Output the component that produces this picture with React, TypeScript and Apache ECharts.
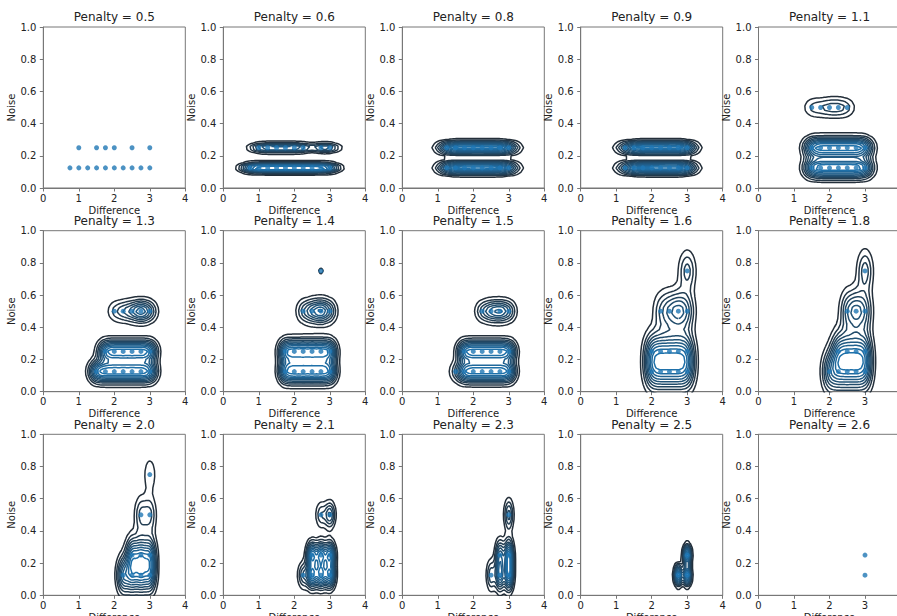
import React, { useEffect, useRef } from "react";
import * as echarts from "echarts";

// [difference, noise, number of runs that ended at this point]
type Run = [number, number, number];

function row(noise: number, differences: number[], runs: number | number[]): Run[] {
  return differences.map((d, i) => [d, noise, Array.isArray(runs) ? runs[i] : runs] as Run);
}

const penaltyLabels = ["0.5", "0.6", "0.8", "0.9", "1.1", "1.3", "1.4", "1.5", "1.6", "1.8", "2.0", "2.1", "2.3", "2.5", "2.6"];

const runsP05: Run[] = [
  ...row(0.125, [0.75, 1, 1.25, 1.5, 1.75, 2, 2.25, 2.5, 2.75, 3], 1),
  ...row(0.25, [1, 1.5, 1.75, 2, 2.5, 3], 1),
];
const runsP06: Run[] = [
  ...row(0.125, [0.75, 1, 1.25, 1.5, 1.75, 2, 2.25, 2.5, 2.75, 3], 70),
  ...row(0.25, [1, 1.25, 1.5, 1.75, 2, 2.25, 2.75, 3], 45),
];
const runsP08: Run[] = [
  ...row(0.125, [1.25, 1.5, 1.75, 2, 2.25, 2.5, 2.75, 3], 16),
  ...row(0.25, [1.25, 1.5, 1.75, 2, 2.25, 2.5, 2.75, 3], 16),
];
const runsP09: Run[] = [
  ...row(0.125, [1.25, 1.5, 1.75, 2, 2.25, 2.5, 2.75, 3], [10, 16, 16, 16, 16, 16, 16, 18]),
  ...row(0.25, [1.25, 1.5, 1.75, 2, 2.25, 2.5, 2.75, 3], [10, 16, 16, 16, 16, 16, 16, 18]),
];
const runsP11: Run[] = [
  ...row(0.125, [1.5, 1.75, 2, 2.25, 2.5, 2.75, 3], 25),
  ...row(0.25, [1.5, 1.75, 2, 2.25, 2.5, 2.75, 3], 25),
  ...row(0.5, [1.5, 1.75, 2, 2.25, 2.5], [7, 6, 9, 9, 7]),
];
const runsP13: Run[] = [
  ...row(0.125, [1.5, 1.75, 2, 2.25, 2.5, 2.75, 3], 40),
  ...row(0.25, [1.75, 2, 2.25, 2.5, 2.75, 3], 40),
  ...row(0.5, [2, 2.25, 2.5, 2.75, 3], [10, 15, 20, 35, 20]),
];
const runsP14: Run[] = [
  ...row(0.125, [1.75, 2, 2.25, 2.5, 2.75, 3], 40),
  ...row(0.25, [1.75, 2, 2.25, 2.5, 2.75, 3], 40),
  ...row(0.5, [2.25, 2.5, 2.75, 3], [15, 25, 35, 20]),
  ...row(0.75, [2.75], 6),
];
const runsP15: Run[] = [
  ...row(0.125, [1.5, 1.75, 2, 2.25, 2.5, 2.75, 3], [10, 40, 40, 40, 40, 40, 40]),
  ...row(0.25, [1.75, 2, 2.25, 2.5, 2.75, 3], 40),
  ...row(0.5, [2.25, 2.5, 2.75, 3], [15, 25, 30, 20]),
];
const runsP16: Run[] = [
  ...row(0.125, [2, 2.25, 2.5, 2.75, 3], 8),
  ...row(0.25, [2, 2.25, 2.5, 2.75, 3], 8),
  ...row(0.5, [2.25, 2.5, 2.75, 3], [4, 6, 8, 6]),
  ...row(0.75, [3], 6),
];
const runsP18: Run[] = [
  ...row(0.125, [2, 2.25, 2.5, 2.75, 3], 8),
  ...row(0.25, [2.25, 2.5, 2.75, 3], 8),
  ...row(0.5, [2.5, 2.75, 3], [6, 8, 6]),
  ...row(0.75, [3], 6),
];
const runsP20: Run[] = [
  ...row(0.125, [2.25, 2.5, 2.75, 3], 10),
  ...row(0.25, [2.5, 2.75, 3], 10),
  ...row(0.5, [2.75, 3], 5),
  ...row(0.75, [3], 3),
];
const runsP21: Run[] = [
  ...row(0.125, [2.25, 2.5, 2.75, 3], [8, 20, 20, 20]),
  ...row(0.25, [2.5, 2.75, 3], 20),
  ...row(0.5, [2.75, 3], [6, 11]),
];
const runsP23: Run[] = [
  ...row(0.125, [2.5, 2.75, 3], [5, 10, 12]),
  ...row(0.25, [2.75, 3], [8, 12]),
  ...row(0.5, [3], 6),
];
const runsP25: Run[] = [
  ...row(0.125, [2.75, 3], 6),
  ...row(0.25, [3], 6),
];
const runsP26: Run[] = [
  ...row(0.125, [3], 1),
  ...row(0.25, [3], 1),
];

const runsByPenalty: Run[][] = [
  runsP05, runsP06, runsP08, runsP09, runsP11,
  runsP13, runsP14, runsP15, runsP16, runsP18,
  runsP20, runsP21, runsP23, runsP25, runsP26,
];

// penalties whose panel shows only the scatter
const scatterOnly = ["0.5", "2.6"];

const differenceTicks = [0, 1, 2, 3, 4];
const noiseTicks = [0, 0.2, 0.4, 0.6, 0.8, 1.0];

// panel layout (pixels)
const colLeft = [43.3, 223.3, 402.3, 580.7, 758.5];
const rowTop = [27, 230.7, 434.3];
const plotW = 142;
const plotH = 161;

const FONT = "DejaVu Sans";
const TEXT = "#222222";
const SPINE = "#777777";
const POINT = "#1f77b4";
const DARK: [number, number, number] = [36, 40, 46];
const BLUE: [number, number, number] = [31, 119, 180];

const GRID_N = 100;
const N_LEVELS = 10;

// Gaussian KDE with a per-axis Scott bandwidth, evaluated on a regular grid
function densityGrid(runs: Run[]) {
  let n = 0, sx = 0, sy = 0;
  for (const [x, y, w] of runs) { n += w; sx += w * x; sy += w * y; }
  const mx = sx / n, my = sy / n;
  let cxx = 0, cyy = 0;
  for (const [x, y, w] of runs) {
    cxx += w * (x - mx) * (x - mx);
    cyy += w * (y - my) * (y - my);
  }
  cxx /= n - 1; cyy /= n - 1;
  const f = Math.pow(n, -1 / 6);
  const hx = Math.sqrt(cxx) * f, hy = Math.sqrt(cyy) * f;
  if (!(hx > 1e-9 && hy > 1e-9)) return null;
  const norm = 1 / (2 * Math.PI * hx * hy * n);
  const xsData = runs.map((r) => r[0]);
  const ysData = runs.map((r) => r[1]);
  const x0 = Math.min(...xsData) - 3 * f, x1 = Math.max(...xsData) + 3 * f;
  const y0 = Math.min(...ysData) - 3 * f, y1 = Math.max(...ysData) + 3 * f;
  const xs: number[] = [], ys: number[] = [];
  for (let i = 0; i < GRID_N; i++) {
    xs.push(x0 + ((x1 - x0) * i) / (GRID_N - 1));
    ys.push(y0 + ((y1 - y0) * i) / (GRID_N - 1));
  }
  const z: number[][] = [];
  let zmax = 0;
  for (let j = 0; j < GRID_N; j++) {
    const rowZ: number[] = [];
    for (let i = 0; i < GRID_N; i++) {
      let s = 0;
      for (const [x, y, w] of runs) {
        const dx = (xs[i] - x) / hx, dy = (ys[j] - y) / hy;
        s += w * Math.exp(-0.5 * (dx * dx + dy * dy));
      }
      const v = s * norm;
      rowZ.push(v);
      if (v > zmax) zmax = v;
    }
    z.push(rowZ);
  }
  return { xs, ys, z, zmax };
}

// marching squares, joined into polylines
function contourLines(xs: number[], ys: number[], z: number[][], lev: number): number[][][] {
  type Seg = { a: string; b: string; pa: number[]; pb: number[] };
  const segs: Seg[] = [];
  const adj = new Map<string, number[]>();
  const add = (p: [string, number[]], q: [string, number[]]) => {
    const idx = segs.length;
    segs.push({ a: p[0], b: q[0], pa: p[1], pb: q[1] });
    for (const k of [p[0], q[0]]) {
      const list = adj.get(k);
      if (list) list.push(idx); else adj.set(k, [idx]);
    }
  };
  const lerp = (xa: number, ya: number, va: number, xb: number, yb: number, vb: number) => {
    const t = (lev - va) / (vb - va);
    return [xa + t * (xb - xa), ya + t * (yb - ya)];
  };
  const nx = xs.length, ny = ys.length;
  for (let j = 0; j < ny - 1; j++) {
    for (let i = 0; i < nx - 1; i++) {
      const v00 = z[j][i], v10 = z[j][i + 1], v11 = z[j + 1][i + 1], v01 = z[j + 1][i];
      const c = (v00 > lev ? 1 : 0) | (v10 > lev ? 2 : 0) | (v11 > lev ? 4 : 0) | (v01 > lev ? 8 : 0);
      if (c === 0 || c === 15) continue;
      const B = (): [string, number[]] => ["h" + i + "," + j, lerp(xs[i], ys[j], v00, xs[i + 1], ys[j], v10)];
      const R = (): [string, number[]] => ["v" + (i + 1) + "," + j, lerp(xs[i + 1], ys[j], v10, xs[i + 1], ys[j + 1], v11)];
      const T = (): [string, number[]] => ["h" + i + "," + (j + 1), lerp(xs[i], ys[j + 1], v01, xs[i + 1], ys[j + 1], v11)];
      const L = (): [string, number[]] => ["v" + i + "," + j, lerp(xs[i], ys[j], v00, xs[i], ys[j + 1], v01)];
      const centerHigh = (v00 + v10 + v11 + v01) / 4 > lev;
      switch (c) {
        case 1: case 14: add(L(), B()); break;
        case 2: case 13: add(B(), R()); break;
        case 3: case 12: add(L(), R()); break;
        case 4: case 11: add(R(), T()); break;
        case 6: case 9: add(B(), T()); break;
        case 7: case 8: add(L(), T()); break;
        case 5:
          if (centerHigh) { add(B(), R()); add(T(), L()); } else { add(L(), B()); add(R(), T()); }
          break;
        case 10:
          if (centerHigh) { add(L(), B()); add(R(), T()); } else { add(B(), R()); add(T(), L()); }
          break;
      }
    }
  }
  const used = new Array(segs.length).fill(false);
  const lines: number[][][] = [];
  const nextFrom = (key: string) => {
    const list = adj.get(key) || [];
    for (const s of list) if (!used[s]) return s;
    return -1;
  };
  for (let s0 = 0; s0 < segs.length; s0++) {
    if (used[s0]) continue;
    used[s0] = true;
    const line = [segs[s0].pa, segs[s0].pb];
    let key = segs[s0].b;
    for (;;) {
      const t = nextFrom(key);
      if (t < 0) break;
      used[t] = true;
      const sg = segs[t];
      if (sg.a === key) { line.push(sg.pb); key = sg.b; } else { line.push(sg.pa); key = sg.a; }
    }
    key = segs[s0].a;
    for (;;) {
      const t = nextFrom(key);
      if (t < 0) break;
      used[t] = true;
      const sg = segs[t];
      if (sg.a === key) { line.unshift(sg.pb); key = sg.b; } else { line.unshift(sg.pa); key = sg.a; }
    }
    lines.push(line);
  }
  return lines;
}

function levelColor(frac: number) {
  const c = DARK.map((d, k) => Math.round(d + (BLUE[k] - d) * frac));
  return `rgb(${c[0]},${c[1]},${c[2]})`;
}

function buildOption() {
  const grid: any[] = [];
  const xAxis: any[] = [];
  const yAxis: any[] = [];
  const series: any[] = [];
  const graphic: any[] = [];

  penaltyLabels.forEach((label, p) => {
    const left = colLeft[p % 5];
    const top = rowTop[Math.floor(p / 5)];
    grid.push({
      left, top, width: plotW, height: plotH,
      show: true, borderColor: SPINE, borderWidth: 1, backgroundColor: "transparent",
      containLabel: false, outerBoundsMode: "none",
    });
    xAxis.push({
      type: "value", gridIndex: p,
      min: differenceTicks[0], max: differenceTicks[differenceTicks.length - 1],
      interval: differenceTicks[1] - differenceTicks[0],
      name: "Difference", nameLocation: "middle", nameGap: 17,
      nameTextStyle: { fontSize: 10, color: TEXT, fontFamily: FONT },
      axisLine: { show: true, onZero: false, lineStyle: { color: SPINE, width: 1 } },
      axisTick: { show: true, length: 3.5, lineStyle: { color: SPINE, width: 1 } },
      axisLabel: { fontSize: 10, color: TEXT, fontFamily: FONT, margin: 5, showMaxLabel: true, showMinLabel: true, hideOverlap: false },
      splitLine: { show: false },
    });
    yAxis.push({
      type: "value", gridIndex: p,
      min: noiseTicks[0], max: noiseTicks[noiseTicks.length - 1],
      interval: 0.2,
      name: "Noise", nameLocation: "middle", nameGap: 21.5,
      nameTextStyle: { fontSize: 10, color: TEXT, fontFamily: FONT },
      axisLine: { show: true, onZero: false, lineStyle: { color: SPINE, width: 1 } },
      axisTick: { show: true, length: 3.5, lineStyle: { color: SPINE, width: 1 } },
      axisLabel: { fontSize: 10, color: TEXT, fontFamily: FONT, margin: 7, formatter: (v: number) => v.toFixed(1) },
      splitLine: { show: false },
    });
    graphic.push({
      type: "text", x: left + plotW / 2, y: top - 9.7, silent: true,
      style: { text: "Penalty = " + label, fontSize: 12, fontFamily: FONT, fill: TEXT, align: "center", verticalAlign: "middle", textAlign: "center", textVerticalAlign: "middle" },
    });

    const runs = runsByPenalty[p];
    if (!scatterOnly.includes(label)) {
      const d = densityGrid(runs);
      if (d) {
        // ten evenly spaced density levels, dark outside to blue inside
        for (let k = 1; k <= N_LEVELS; k++) {
          const lev = (d.zmax * k) / (N_LEVELS + 1);
          const color = levelColor(k / (N_LEVELS + 1));
          contourLines(d.xs, d.ys, d.z, lev).forEach((pts) => {
            series.push({
              type: "line", xAxisIndex: p, yAxisIndex: p, data: pts,
              symbol: "none", showSymbol: false, silent: true, clip: true,
              lineStyle: { color, width: 1.5 }, z: 2, animation: false,
            });
          });
        }
      }
    }
    series.push({
      type: "scatter", xAxisIndex: p, yAxisIndex: p,
      data: runs.map((r) => [r[0], r[1]]),
      symbolSize: 5, itemStyle: { color: POINT }, z: 3, silent: true,
    });
  });

  return { animation: false, textStyle: { fontFamily: FONT }, grid, xAxis, yAxis, series, graphic };
}

export default function App() {
  const ref = useRef<HTMLDivElement>(null);
  useEffect(() => {
    if (!ref.current) return;
    const chart = echarts.init(ref.current, undefined, { renderer: "svg" });
    chart.setOption(buildOption() as any);
    return () => chart.dispose();
  }, []);
  return (
    <div
      ref={ref}
      style={{ position: "fixed", left: 0, top: 0, width: 897, height: 616, background: "#ffffff" }}
    />
  );
}
